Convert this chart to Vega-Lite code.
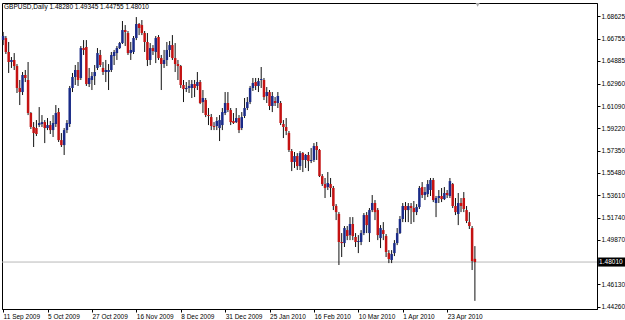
{
"$schema": "https://vega.github.io/schema/vega-lite/v6.json",
"width": 595, "height": 306,
"autosize": "none",
"padding": {"left": 2, "top": 3, "right": 28, "bottom": 11},
"background": "white",
"config": {"view": {"stroke": "black", "strokeWidth": 1}, "font": "Liberation Sans",
"scale": {"continuousPadding": 0},
"axis": {"labelOverlap": false, "labelFlush": false, "grid": false, "title": null, "labelColor": "black", "tickColor": "black", "domainColor": "black", "tickSize": 3}},
"datasets": {
"bars": [
{"i":0,"o":1.6663,"h":1.6731,"l":1.6621,"c":1.6697},
{"i":1,"o":1.6680,"h":1.6697,"l":1.6546,"c":1.6563},
{"i":2,"o":1.6563,"h":1.6647,"l":1.6387,"c":1.6479},
{"i":3,"o":1.6479,"h":1.6521,"l":1.6429,"c":1.6496},
{"i":4,"o":1.6496,"h":1.6554,"l":1.6412,"c":1.6445},
{"i":5,"o":1.6445,"h":1.6462,"l":1.6219,"c":1.6261},
{"i":6,"o":1.6261,"h":1.6328,"l":1.6118,"c":1.6227},
{"i":7,"o":1.6227,"h":1.6395,"l":1.6202,"c":1.6370},
{"i":8,"o":1.6370,"h":1.6412,"l":1.6311,"c":1.6345},
{"i":9,"o":1.6328,"h":1.6479,"l":1.6034,"c":1.6051},
{"i":10,"o":1.6051,"h":1.6059,"l":1.5917,"c":1.5934},
{"i":11,"o":1.5934,"h":1.5975,"l":1.5766,"c":1.5883},
{"i":12,"o":1.5925,"h":1.5992,"l":1.5858,"c":1.5875},
{"i":13,"o":1.5950,"h":1.6101,"l":1.5934,"c":1.5967},
{"i":14,"o":1.5959,"h":1.6034,"l":1.5934,"c":1.5975},
{"i":15,"o":1.5975,"h":1.5992,"l":1.5799,"c":1.5925},
{"i":16,"o":1.5925,"h":1.6009,"l":1.5908,"c":1.5950},
{"i":17,"o":1.5950,"h":1.5984,"l":1.5875,"c":1.5908},
{"i":18,"o":1.5908,"h":1.6034,"l":1.5850,"c":1.5967},
{"i":19,"o":1.5959,"h":1.6118,"l":1.5934,"c":1.6051},
{"i":20,"o":1.6059,"h":1.6093,"l":1.5808,"c":1.5824},
{"i":21,"o":1.5824,"h":1.5883,"l":1.5766,"c":1.5782},
{"i":22,"o":1.5782,"h":1.5925,"l":1.5699,"c":1.5908},
{"i":23,"o":1.5908,"h":1.5992,"l":1.5883,"c":1.5967},
{"i":24,"o":1.5959,"h":1.6278,"l":1.5934,"c":1.6261},
{"i":25,"o":1.6261,"h":1.6387,"l":1.6227,"c":1.6353},
{"i":26,"o":1.6353,"h":1.6454,"l":1.6286,"c":1.6412},
{"i":27,"o":1.6412,"h":1.6479,"l":1.6278,"c":1.6328},
{"i":28,"o":1.6345,"h":1.6613,"l":1.6328,"c":1.6596},
{"i":29,"o":1.6596,"h":1.6663,"l":1.6538,"c":1.6580},
{"i":30,"o":1.6605,"h":1.6663,"l":1.6278,"c":1.6294},
{"i":31,"o":1.6294,"h":1.6429,"l":1.6269,"c":1.6345},
{"i":32,"o":1.6328,"h":1.6395,"l":1.6244,"c":1.6361},
{"i":33,"o":1.6361,"h":1.6454,"l":1.6286,"c":1.6395},
{"i":34,"o":1.6429,"h":1.6596,"l":1.6412,"c":1.6554},
{"i":35,"o":1.6538,"h":1.6580,"l":1.6437,"c":1.6454},
{"i":36,"o":1.6429,"h":1.6479,"l":1.6370,"c":1.6395},
{"i":37,"o":1.6395,"h":1.6496,"l":1.6311,"c":1.6412},
{"i":38,"o":1.6395,"h":1.6462,"l":1.6244,"c":1.6412},
{"i":39,"o":1.6412,"h":1.6563,"l":1.6395,"c":1.6538},
{"i":40,"o":1.6529,"h":1.6580,"l":1.6454,"c":1.6563},
{"i":41,"o":1.6554,"h":1.6613,"l":1.6496,"c":1.6596},
{"i":42,"o":1.6596,"h":1.6647,"l":1.6588,"c":1.6638},
{"i":43,"o":1.6638,"h":1.6823,"l":1.6630,"c":1.6747},
{"i":44,"o":1.6747,"h":1.6789,"l":1.6613,"c":1.6731},
{"i":45,"o":1.6722,"h":1.6739,"l":1.6538,"c":1.6554},
{"i":46,"o":1.6554,"h":1.6647,"l":1.6496,"c":1.6580},
{"i":47,"o":1.6563,"h":1.6697,"l":1.6546,"c":1.6680},
{"i":48,"o":1.6680,"h":1.6856,"l":1.6663,"c":1.6798},
{"i":49,"o":1.6798,"h":1.6806,"l":1.6705,"c":1.6764},
{"i":50,"o":1.6789,"h":1.6831,"l":1.6705,"c":1.6722},
{"i":51,"o":1.6722,"h":1.6739,"l":1.6563,"c":1.6647},
{"i":52,"o":1.6647,"h":1.6722,"l":1.6445,"c":1.6496},
{"i":53,"o":1.6496,"h":1.6638,"l":1.6454,"c":1.6596},
{"i":54,"o":1.6596,"h":1.6621,"l":1.6538,"c":1.6571},
{"i":55,"o":1.6563,"h":1.6697,"l":1.6470,"c":1.6680},
{"i":56,"o":1.6689,"h":1.6705,"l":1.6496,"c":1.6512},
{"i":57,"o":1.6512,"h":1.6538,"l":1.6244,"c":1.6462},
{"i":58,"o":1.6462,"h":1.6580,"l":1.6429,"c":1.6496},
{"i":59,"o":1.6496,"h":1.6647,"l":1.6445,"c":1.6580},
{"i":60,"o":1.6580,"h":1.6655,"l":1.6521,"c":1.6621},
{"i":61,"o":1.6621,"h":1.6705,"l":1.6496,"c":1.6512},
{"i":62,"o":1.6512,"h":1.6638,"l":1.6395,"c":1.6462},
{"i":63,"o":1.6462,"h":1.6496,"l":1.6328,"c":1.6445},
{"i":64,"o":1.6445,"h":1.6454,"l":1.6261,"c":1.6286},
{"i":65,"o":1.6286,"h":1.6328,"l":1.6143,"c":1.6252},
{"i":66,"o":1.6252,"h":1.6311,"l":1.6227,"c":1.6261},
{"i":67,"o":1.6261,"h":1.6328,"l":1.6219,"c":1.6278},
{"i":68,"o":1.6261,"h":1.6328,"l":1.6177,"c":1.6294},
{"i":69,"o":1.6294,"h":1.6328,"l":1.6185,"c":1.6261},
{"i":70,"o":1.6278,"h":1.6395,"l":1.6244,"c":1.6311},
{"i":71,"o":1.6311,"h":1.6328,"l":1.6126,"c":1.6135},
{"i":72,"o":1.6143,"h":1.6244,"l":1.6051,"c":1.6177},
{"i":73,"o":1.6160,"h":1.6177,"l":1.6017,"c":1.6034},
{"i":74,"o":1.6034,"h":1.6093,"l":1.5950,"c":1.6026},
{"i":75,"o":1.6017,"h":1.6043,"l":1.5908,"c":1.5942},
{"i":76,"o":1.5942,"h":1.5975,"l":1.5908,"c":1.5934},
{"i":77,"o":1.5942,"h":1.6017,"l":1.5908,"c":1.5984},
{"i":78,"o":1.5925,"h":1.6034,"l":1.5816,"c":1.5992},
{"i":79,"o":1.5950,"h":1.6093,"l":1.5908,"c":1.6059},
{"i":80,"o":1.6051,"h":1.6227,"l":1.6034,"c":1.6135},
{"i":81,"o":1.6135,"h":1.6227,"l":1.6059,"c":1.6076},
{"i":82,"o":1.6076,"h":1.6093,"l":1.5950,"c":1.5975},
{"i":83,"o":1.5984,"h":1.6051,"l":1.5959,"c":1.5967},
{"i":84,"o":1.5975,"h":1.6093,"l":1.5967,"c":1.6009},
{"i":85,"o":1.6009,"h":1.6034,"l":1.5883,"c":1.5908},
{"i":86,"o":1.5925,"h":1.6059,"l":1.5908,"c":1.6017},
{"i":87,"o":1.6026,"h":1.6177,"l":1.6009,"c":1.6093},
{"i":88,"o":1.6093,"h":1.6185,"l":1.6076,"c":1.6143},
{"i":89,"o":1.6143,"h":1.6278,"l":1.6126,"c":1.6261},
{"i":90,"o":1.6261,"h":1.6345,"l":1.6236,"c":1.6303},
{"i":91,"o":1.6311,"h":1.6345,"l":1.6244,"c":1.6278},
{"i":92,"o":1.6278,"h":1.6345,"l":1.6227,"c":1.6319},
{"i":93,"o":1.6328,"h":1.6437,"l":1.6261,"c":1.6336},
{"i":94,"o":1.6328,"h":1.6345,"l":1.6160,"c":1.6185},
{"i":95,"o":1.6194,"h":1.6269,"l":1.6135,"c":1.6227},
{"i":96,"o":1.6227,"h":1.6244,"l":1.6076,"c":1.6110},
{"i":97,"o":1.6110,"h":1.6227,"l":1.6059,"c":1.6194},
{"i":98,"o":1.6152,"h":1.6185,"l":1.6110,"c":1.6135},
{"i":99,"o":1.6135,"h":1.6227,"l":1.6093,"c":1.6194},
{"i":100,"o":1.6135,"h":1.6152,"l":1.5950,"c":1.5967},
{"i":101,"o":1.5959,"h":1.5992,"l":1.5841,"c":1.5934},
{"i":102,"o":1.5934,"h":1.6009,"l":1.5866,"c":1.5900},
{"i":103,"o":1.5883,"h":1.5900,"l":1.5724,"c":1.5741},
{"i":104,"o":1.5732,"h":1.5749,"l":1.5564,"c":1.5640},
{"i":105,"o":1.5640,"h":1.5724,"l":1.5590,"c":1.5690},
{"i":106,"o":1.5690,"h":1.5715,"l":1.5573,"c":1.5606},
{"i":107,"o":1.5606,"h":1.5732,"l":1.5573,"c":1.5715},
{"i":108,"o":1.5715,"h":1.5724,"l":1.5556,"c":1.5657},
{"i":109,"o":1.5657,"h":1.5707,"l":1.5590,"c":1.5699},
{"i":110,"o":1.5699,"h":1.5724,"l":1.5564,"c":1.5648},
{"i":111,"o":1.5648,"h":1.5757,"l":1.5631,"c":1.5657},
{"i":112,"o":1.5657,"h":1.5799,"l":1.5640,"c":1.5774},
{"i":113,"o":1.5774,"h":1.5808,"l":1.5657,"c":1.5741},
{"i":114,"o":1.5741,"h":1.5749,"l":1.5514,"c":1.5522},
{"i":115,"o":1.5522,"h":1.5539,"l":1.5439,"c":1.5455},
{"i":116,"o":1.5455,"h":1.5506,"l":1.5338,"c":1.5422},
{"i":117,"o":1.5430,"h":1.5556,"l":1.5405,"c":1.5464},
{"i":118,"o":1.5455,"h":1.5506,"l":1.5346,"c":1.5422},
{"i":119,"o":1.5422,"h":1.5439,"l":1.5237,"c":1.5271},
{"i":120,"o":1.5271,"h":1.5287,"l":1.5153,"c":1.5220},
{"i":121,"o":1.5204,"h":1.5220,"l":1.4776,"c":1.4969},
{"i":122,"o":1.4969,"h":1.5044,"l":1.4843,"c":1.4960},
{"i":123,"o":1.4960,"h":1.5103,"l":1.4927,"c":1.5086},
{"i":124,"o":1.5069,"h":1.5103,"l":1.4985,"c":1.5019},
{"i":125,"o":1.5027,"h":1.5178,"l":1.4985,"c":1.5120},
{"i":126,"o":1.5120,"h":1.5178,"l":1.4985,"c":1.5019},
{"i":127,"o":1.5011,"h":1.5044,"l":1.4927,"c":1.4969},
{"i":128,"o":1.4969,"h":1.5027,"l":1.4876,"c":1.4977},
{"i":129,"o":1.4969,"h":1.5069,"l":1.4943,"c":1.5044},
{"i":130,"o":1.5044,"h":1.5212,"l":1.5027,"c":1.5195},
{"i":131,"o":1.5195,"h":1.5220,"l":1.5044,"c":1.5111},
{"i":132,"o":1.5044,"h":1.5254,"l":1.4969,"c":1.5237},
{"i":133,"o":1.5237,"h":1.5363,"l":1.5220,"c":1.5296},
{"i":134,"o":1.5296,"h":1.5321,"l":1.5153,"c":1.5220},
{"i":135,"o":1.5237,"h":1.5254,"l":1.4985,"c":1.5027},
{"i":136,"o":1.5002,"h":1.5111,"l":1.4918,"c":1.5086},
{"i":137,"o":1.5069,"h":1.5136,"l":1.4985,"c":1.5036},
{"i":138,"o":1.5019,"h":1.5036,"l":1.4843,"c":1.4885},
{"i":139,"o":1.4876,"h":1.4901,"l":1.4792,"c":1.4826},
{"i":140,"o":1.4818,"h":1.4901,"l":1.4792,"c":1.4868},
{"i":141,"o":1.4876,"h":1.4985,"l":1.4851,"c":1.4960},
{"i":142,"o":1.4960,"h":1.5086,"l":1.4943,"c":1.5044},
{"i":143,"o":1.5044,"h":1.5187,"l":1.5036,"c":1.5162},
{"i":144,"o":1.5162,"h":1.5296,"l":1.5136,"c":1.5271},
{"i":145,"o":1.5271,"h":1.5304,"l":1.5136,"c":1.5237},
{"i":146,"o":1.5237,"h":1.5296,"l":1.5136,"c":1.5271},
{"i":147,"o":1.5271,"h":1.5296,"l":1.5120,"c":1.5254},
{"i":148,"o":1.5254,"h":1.5313,"l":1.5136,"c":1.5220},
{"i":149,"o":1.5220,"h":1.5287,"l":1.5195,"c":1.5262},
{"i":150,"o":1.5262,"h":1.5439,"l":1.5246,"c":1.5422},
{"i":151,"o":1.5430,"h":1.5472,"l":1.5338,"c":1.5363},
{"i":152,"o":1.5363,"h":1.5430,"l":1.5321,"c":1.5388},
{"i":153,"o":1.5371,"h":1.5489,"l":1.5346,"c":1.5455},
{"i":154,"o":1.5405,"h":1.5506,"l":1.5355,"c":1.5489},
{"i":155,"o":1.5489,"h":1.5506,"l":1.5304,"c":1.5321},
{"i":156,"o":1.5296,"h":1.5355,"l":1.5178,"c":1.5338},
{"i":157,"o":1.5338,"h":1.5405,"l":1.5296,"c":1.5355},
{"i":158,"o":1.5355,"h":1.5422,"l":1.5304,"c":1.5329},
{"i":159,"o":1.5329,"h":1.5430,"l":1.5321,"c":1.5380},
{"i":160,"o":1.5380,"h":1.5405,"l":1.5338,"c":1.5363},
{"i":161,"o":1.5355,"h":1.5506,"l":1.5338,"c":1.5480},
{"i":162,"o":1.5455,"h":1.5464,"l":1.5254,"c":1.5271},
{"i":163,"o":1.5271,"h":1.5338,"l":1.5195,"c":1.5220},
{"i":164,"o":1.5204,"h":1.5380,"l":1.5111,"c":1.5296},
{"i":165,"o":1.5296,"h":1.5338,"l":1.5220,"c":1.5271},
{"i":166,"o":1.5338,"h":1.5388,"l":1.5220,"c":1.5246},
{"i":167,"o":1.5237,"h":1.5271,"l":1.5128,"c":1.5145},
{"i":168,"o":1.5136,"h":1.5220,"l":1.5078,"c":1.5103},
{"i":169,"o":1.5086,"h":1.5103,"l":1.4734,"c":1.4809},
{"i":170,"o":1.4828,"h":1.49345,"l":1.44755,"c":1.4801}
],
"one": [{"label": "1.48010", "title": "GBPUSD,Daily  1.48280 1.49345 1.44755 1.48010"}]
},
"layer": [
{
"data": {"name": "one"},
"mark": {"type": "rule", "color": "#b8b8b8", "strokeWidth": 1},
"encoding": {"y": {"datum": 1.4801, "type": "quantitative",
"scale": {"domain": [1.4407, 1.6974], "nice": false, "zero": false, "padding": 0},
"axis": {"orient": "right", "values": [1.68625,1.66755,1.64885,1.6296,1.6109,1.5922,1.5735,1.5548,1.5361,1.5174,1.4987,1.4613,1.4426],
"tickCount": 30, "format": ".5f", "labelFontSize": 6.5, "labelPadding": 1, "labelOverlap": false}}}
},
{
"data": {"name": "bars"},
"mark": {"type": "rule", "color": "#111111", "strokeWidth": 1},
"encoding": {
"x": {"field": "i", "type": "quantitative",
"scale": {"domain": [-0.4, 214], "nice": false, "zero": false, "padding": 0},
"axis": {"values": [0,16,32,48,64,80,96,112,128,144,160], "tickCount": 30,
"labelExpr": "['11 Sep 2009','5 Oct 2009','27 Oct 2009','16 Nov 2009','8 Dec 2009','31 Dec 2009','25 Jan 2010','16 Feb 2010','10 Mar 2010','1 Apr 2010','23 Apr 2010'][round(datum.value/16)]",
"labelAlign": "left", "labelFlush": false, "labelOverlap": false, "labelFontSize": 6.5, "labelPadding": 1}},
"y": {"field": "l", "type": "quantitative"},
"y2": {"field": "h"}
}
},
{
"data": {"name": "bars"},
"mark": {"type": "bar", "width": 2.5},
"encoding": {
"x": {"field": "i", "type": "quantitative"},
"y": {"field": "o", "type": "quantitative"},
"y2": {"field": "c"},
"color": {"condition": {"test": "datum.c >= datum.o", "value": "#1a2b88"}, "value": "#c41212"}
}
},
{
"data": {"name": "one"},
"mark": {"type": "rect", "color": "black"},
"encoding": {"x": {"datum": 214.4}, "x2": {"datum": 224.2}, "y": {"datum": 1.4763}, "y2": {"datum": 1.4839}}
},
{
"data": {"name": "one"},
"mark": {"type": "text", "color": "white", "align": "left", "baseline": "middle", "fontSize": 6.5, "dx": 1},
"encoding": {"x": {"datum": 214.4}, "y": {"datum": 1.4801}, "text": {"field": "label"}}
},
{
"data": {"name": "one"},
"mark": {"type": "text", "color": "black", "align": "left", "baseline": "middle", "fontSize": 6.5, "dx": 2, "dy": 4},
"encoding": {"x": {"datum": -0.4}, "y": {"datum": 1.6974}, "text": {"field": "title"}}
},
{
"data": {"name": "one"},
"mark": {"type": "point", "shape": "triangle-down", "filled": true, "color": "#a8a8a8", "size": 18, "opacity": 1},
"encoding": {"x": {"datum": 171}, "y": {"datum": 1.6958}}
}
]
}
